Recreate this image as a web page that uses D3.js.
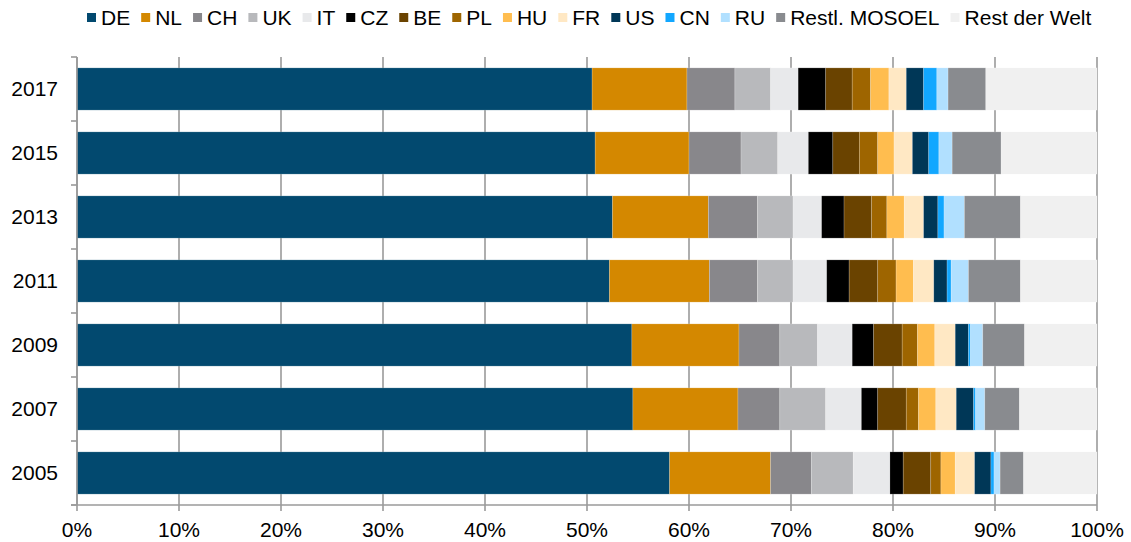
<!DOCTYPE html>
<html>
<head>
<meta charset="utf-8">
<script src="https://cdn.jsdelivr.net/npm/d3@7"></script>
<style>
  body { margin: 0; background: #fff; }
  text { font-family: "Liberation Sans", Arial, sans-serif; fill: #000; }
</style>
</head>
<body>
<div id="chart"></div>
<script>
// years, top to bottom
const years = ['2017', '2015', '2013', '2011', '2009', '2007', '2005'];

const seriesNames = ['DE', 'NL', 'CH', 'UK', 'IT', 'CZ', 'BE', 'PL', 'HU', 'FR', 'US', 'CN', 'RU', 'Restl. MOSOEL', 'Rest der Welt'];

const seriesColors = ['#02496f', '#d48800', '#88878b', '#b8b9bc', '#e8e9eb', '#000000', '#6a4300', '#9e6500',
                      '#ffbd4f', '#ffe8c4', '#003757', '#12a7ff', '#b1e0ff', '#898b8f', '#f0f0f0'];

// shares in % per year (same order as years)
const DE    = [50.5, 50.8, 52.5, 52.2, 54.4, 54.5, 58.1];
const NL    = [ 9.3,  9.2,  9.4,  9.8, 10.5, 10.3,  9.9];
const CH    = [ 4.7,  5.1,  4.8,  4.7,  4.0,  4.1,  4.0];
const UK    = [ 3.5,  3.6,  3.5,  3.5,  3.7,  4.5,  4.1];
const IT    = [ 2.7,  3.0,  2.8,  3.3,  3.4,  3.5,  3.6];
const CZ    = [ 2.7,  2.4,  2.2,  2.2,  2.1,  1.6,  1.3];
const BE    = [ 2.6,  2.6,  2.7,  2.8,  2.8,  2.8,  2.7];
const PL    = [ 1.8,  1.8,  1.5,  1.8,  1.5,  1.2,  1.0];
const HU    = [ 1.8,  1.6,  1.7,  1.7,  1.7,  1.7,  1.4];
const FR    = [ 1.7,  1.8,  1.9,  2.0,  2.0,  2.0,  1.9];
const US    = [ 1.7,  1.6,  1.4,  1.3,  1.3,  1.7,  1.6];
const CN    = [ 1.3,  1.0,  0.6,  0.4,  0.2,  0.2,  0.3];
const RU    = [ 1.1,  1.3,  2.0,  1.7,  1.2,  0.9,  0.6];
const MOSOEL = [3.7,  4.8,  5.5,  5.1,  4.1,  3.4,  2.3];
const REST  = [10.9,  9.4,  7.5,  7.5,  7.1,  7.6,  7.2];

const seriesValues = [DE, NL, CH, UK, IT, CZ, BE, PL, HU, FR, US, CN, RU, MOSOEL, REST];

const xTicks = [0, 10, 20, 30, 40, 50, 60, 70, 80, 90, 100];

const width = 1131, height = 542;
const margin = ({top: 57, right: 34, bottom: 37, left: 77});

// build table for d3.stack
let table = years.map((y, i) => {
  let row = {year: y};
  seriesNames.forEach((s, j) => { row[s] = seriesValues[j][i]; });
  return row;
});

let stacked = d3.stack().keys(seriesNames)(table);

let x = d3.scaleLinear()
    .domain([0, 100])
    .range([margin.left, width - margin.right]);

let y = d3.scaleBand()
    .domain(years)
    .range([margin.top, height - margin.bottom])
    .paddingInner(0.34)
    .paddingOuter(0.17);

let color = d3.scaleOrdinal().domain(seriesNames).range(seriesColors);

let svg = d3.select('#chart').append('svg')
    .attr('width', width)
    .attr('height', height);

const y0 = margin.top, y1 = height - margin.bottom;

// vertical gridlines (with small tick below axis)
svg.append('g')
  .selectAll('line')
  .data(xTicks)
  .enter().append('line')
    .attr('x1', d => x(d)).attr('x2', d => x(d))
    .attr('y1', y0).attr('y2', y1 + 6)
    .attr('stroke', '#9a9a9a')
    .attr('stroke-width', 1.6);

// bars
let groups = svg.append('g')
  .selectAll('g')
  .data(stacked)
  .enter().append('g')
    .attr('fill', d => color(d.key));

groups.selectAll('rect')
  .data(d => d)
  .enter().append('rect')
    .attr('x', d => x(d[0]))
    .attr('y', d => y(d.data.year))
    .attr('width', d => x(d[1]) - x(d[0]))
    .attr('height', y.bandwidth())
    .attr('stroke', 'rgba(255,255,255,0.25)')
    .attr('stroke-width', 0.7);

// y axis line + ticks at band boundaries
let bounds = d3.range(years.length + 1).map(i => y0 + i * y.step());
svg.append('line')
  .attr('x1', x(0)).attr('x2', x(0))
  .attr('y1', y0).attr('y2', y1)
  .attr('stroke', '#9a9a9a').attr('stroke-width', 1.6);
svg.append('g').selectAll('line')
  .data(bounds)
  .enter().append('line')
    .attr('x1', x(0) - 6).attr('x2', x(0))
    .attr('y1', d => d).attr('y2', d => d)
    .attr('stroke', '#9a9a9a').attr('stroke-width', 1.6);

// x axis line
svg.append('line')
  .attr('x1', x(0) - 6).attr('x2', x(100))
  .attr('y1', y1).attr('y2', y1)
  .attr('stroke', '#9a9a9a').attr('stroke-width', 1.6);

// y labels
svg.append('g').selectAll('text')
  .data(years)
  .enter().append('text')
    .attr('x', x(0) - 19)
    .attr('y', d => y(d) + y.bandwidth() / 2 + 7)
    .attr('text-anchor', 'end')
    .style('font-size', '21px')
    .text(d => d);

// x labels
svg.append('g').selectAll('text')
  .data(xTicks)
  .enter().append('text')
    .attr('x', d => x(d))
    .attr('y', 537)
    .attr('text-anchor', 'middle')
    .style('font-size', '21px')
    .text(d => d + '%');

// legend
let legend = svg.append('g').attr('class', 'legend');
let lx = 87;
seriesNames.forEach((s, i) => {
  legend.append('rect')
    .attr('x', lx).attr('y', 13)
    .attr('width', 9).attr('height', 9)
    .attr('fill', seriesColors[i]);
  let t = legend.append('text')
    .attr('x', lx + 14)
    .attr('y', 25)
    .style('font-size', '21px')
    .text(s);
  lx += 14 + t.node().getComputedTextLength() + 11;
});
</script>
</body>
</html>
